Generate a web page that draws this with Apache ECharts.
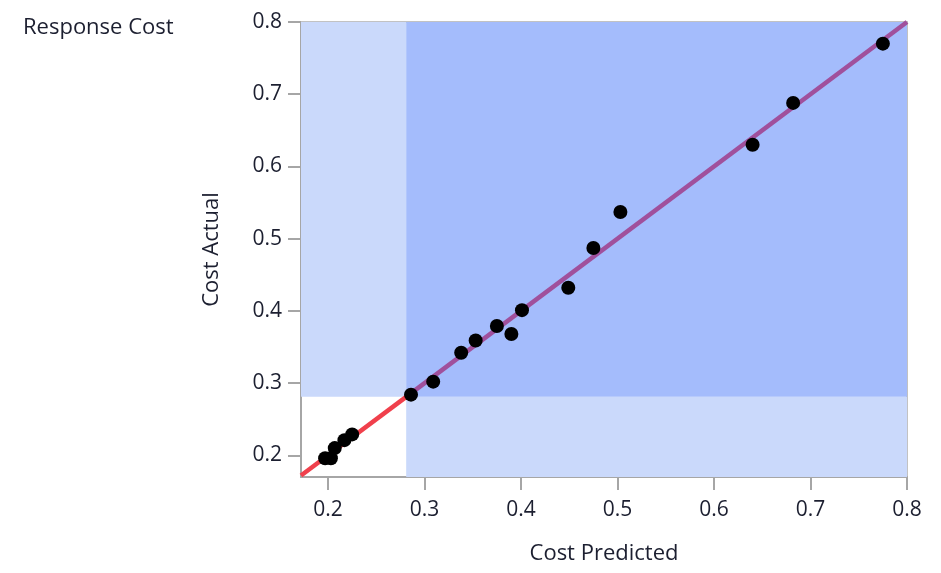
<!DOCTYPE html>
<html>
<head>
<meta charset="utf-8">
<script src="https://cdn.jsdelivr.net/npm/echarts@6/dist/echarts.min.js"></script>
<style>html,body{margin:0;padding:0;background:#fff}#c{width:941px;height:573px}</style>
</head>
<body>
<div id="c"></div>
<script>
// Data
var predicted = [0.197, 0.203, 0.207, 0.217, 0.225, 0.286, 0.309, 0.338, 0.353, 0.375, 0.390, 0.401, 0.449, 0.475, 0.503, 0.640, 0.682, 0.775];
var actual    = [0.196, 0.196, 0.210, 0.221, 0.229, 0.284, 0.302, 0.342, 0.359, 0.379, 0.368, 0.401, 0.432, 0.487, 0.537, 0.630, 0.688, 0.770];
var threshold = 0.281;
var xMin = 0.172, yMin = 0.170, axMax = 0.8;
var tickValues = [0.2, 0.3, 0.4, 0.5, 0.6, 0.7, 0.8];
var tickLabels = ['0.2','0.3','0.4','0.5','0.6','0.7','0.8'];

var pts = predicted.map(function(v,i){return [v, actual[i]];});
var font = '"Open Sans", "Noto Sans", sans-serif';
var textColor = '#1c1f30';
var lightBlue = '#cad9fb', darkBlue = '#a4bcfc';

var chart = echarts.init(document.getElementById('c'));
function fmt(v){ var s = v.toFixed(1); return tickLabels.indexOf(s) >= 0 ? s : ''; }
chart.setOption({
  animation: false,
  title: { text: 'Response Cost', left: 18, top: 12, textStyle: { fontFamily: font, fontSize: 22, fontWeight: 'normal', color: textColor } },
  grid: { left: 301, right: 34, top: 22, bottom: 96 },
  xAxis: [{
    type: 'value', min: xMin, max: axMax, interval: 0.1,
    name: 'Cost Predicted', nameLocation: 'middle', nameGap: 66,
    nameTextStyle: { fontFamily: font, fontSize: 22, color: textColor },
    axisLine: { show: true, onZero: false, lineStyle: { color: '#a6a6a6', width: 2 } },
    axisTick: { show: true, length: 13, lineStyle: { color: '#a6a6a6', width: 2 }, customValues: tickValues },
    axisLabel: { margin: 23, fontFamily: font, fontSize: 21, color: textColor, formatter: fmt, customValues: tickValues },
    splitLine: { show: false }
  }, {
    type: 'value', position: 'top', min: xMin, max: axMax,
    axisLine: { show: true, onZero: false, lineStyle: { color: '#c2c2c2', width: 2 } },
    axisTick: { show: false }, axisLabel: { show: false }, splitLine: { show: false }
  }],
  yAxis: [{
    type: 'value', min: yMin, max: axMax,
    name: 'Cost Actual', nameLocation: 'middle', nameGap: 78,
    nameTextStyle: { fontFamily: font, fontSize: 22, color: textColor },
    axisLine: { show: true, onZero: false, lineStyle: { color: '#a6a6a6', width: 2 } },
    axisTick: { show: true, length: 13, lineStyle: { color: '#a6a6a6', width: 2 }, customValues: tickValues },
    axisLabel: { margin: 19, fontFamily: font, fontSize: 21, color: textColor, formatter: fmt, customValues: tickValues },
    splitLine: { show: false }
  }, {
    type: 'value', position: 'right', min: yMin, max: axMax,
    axisLine: { show: true, onZero: false, lineStyle: { color: '#c2c2c2', width: 2 } },
    axisTick: { show: false }, axisLabel: { show: false }, splitLine: { show: false }
  }],
  series: [
    {
      type: 'scatter', data: [], silent: true,
      markArea: {
        silent: true,
        data: [
          [{ coord: [xMin, threshold], itemStyle: { color: lightBlue } }, { coord: [threshold, axMax] }],
          [{ coord: [threshold, yMin], itemStyle: { color: lightBlue } }, { coord: [axMax, threshold] }],
          [{ coord: [threshold, threshold], itemStyle: { color: darkBlue } }, { coord: [axMax, axMax] }]
        ]
      }
    },
    { type: 'line', data: [[xMin, xMin], [threshold, threshold]], showSymbol: false, symbol: 'none', clip: true,
      lineStyle: { color: '#f0404c', width: 4.5 }, z: 3 },
    { type: 'line', data: [[threshold, threshold], [axMax, axMax]], showSymbol: false, symbol: 'none', clip: true,
      lineStyle: { color: '#a0509c', width: 4.5 }, z: 3 },
    { type: 'scatter', data: pts, symbolSize: 14, itemStyle: { color: '#000', opacity: 1 }, z: 5 }
  ]
});
</script>
</body>
</html>
